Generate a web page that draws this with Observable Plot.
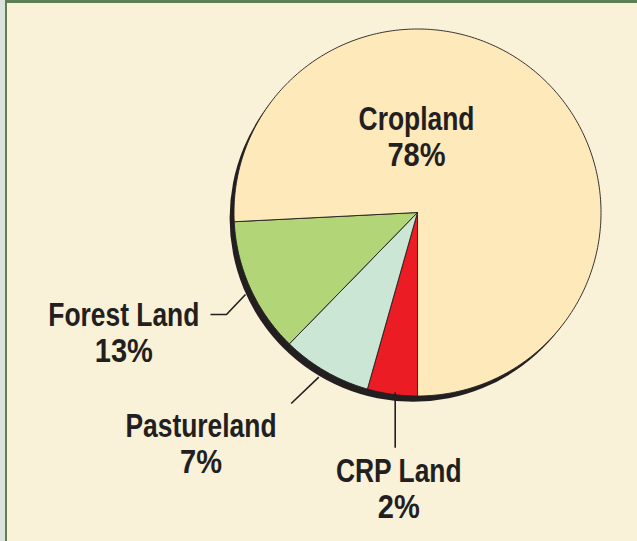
<!DOCTYPE html>
<html>
<head>
<meta charset="utf-8">
<script src="https://cdn.jsdelivr.net/npm/d3@7"></script>
<script src="https://cdn.jsdelivr.net/npm/@observablehq/plot@0.6"></script>
<style>
  html, body { margin: 0; padding: 0; background: #f9f1d8; }
  #frame { position: relative; width: 637px; height: 541px; background: #dbe2dc; overflow: hidden; }
  #panel { position: absolute; left: 5px; top: 0; right: 0; bottom: 0; border-left: 2.5px solid #5f7e53; border-top: 3px solid #5f7e53; background: #f9f1d8; }
  #chart { position: absolute; left: 0; top: 0; }
</style>
</head>
<body>
<div id="frame"><div id="panel"></div><div id="chart"></div></div>
<script>
// ---- data ----
const categories = ["CRP Land", "Pastureland", "Forest Land", "Cropland"];   // clockwise from 6 o'clock
const labelPercents = ["2%", "7%", "13%", "78%"];                            // printed values
const drawnShares = [4.4, 7.9, 11.9, 75.8];                                  // slice sizes as drawn (%)
const sliceColors = ["#ec1c24", "#cce6d5", "#b2d677", "#fee9bb"];

// ---- layout (pixels relative to pie centre, y up) ----
const layout = {
  radius: 183.5,
  startAngle: 180,          // degrees clockwise from 12 o'clock
  shadow: {dx: -4.4, dy: -5.8},
  labels: {
    "Cropland":    {x: -1,     y: 82.5,   leader: []},
    "Forest Land": {x: -293.7, y: -113,   leader: [[-172, -82], [-191, -102], [-207, -102]]},
    "Pastureland": {x: -216.5, y: -224.7, leader: [[-98.7, -164.7], [-126.3, -191]]},
    "CRP Land":    {x: -18.7,  y: -269.7, leader: [[-22.3, -179.7], [-22.3, -235.3]]}
  },
  lineGap: 36,
  fontSize: 33,
  nameSqueeze: 0.8,
  pctSqueeze: 0.88
};
const W = 637, H = 541, cx = 417, cy = 212;
const ink = "#231f20";

// ---- build slice polygons ----
const slicePoints = [];
let a0 = layout.startAngle;
categories.forEach((name, i) => {
  const span = drawnShares[i] / 100 * 360;
  const a1 = a0 + span;
  const pts = [{name, x: 0, y: 0}];
  const n = Math.max(2, Math.ceil(span));
  for (let k = 0; k <= n; k++) {
    const t = (a0 + (a1 - a0) * k / n) * Math.PI / 180;
    pts.push({name, x: layout.radius * Math.sin(t), y: layout.radius * Math.cos(t)});
  }
  pts.push({name, x: 0, y: 0});
  slicePoints.push(...pts);
  a0 = a1;
});

const leaderPoints = [];
const nameRows = [], pctRows = [];
categories.forEach((name, i) => {
  const L = layout.labels[name];
  L.leader.forEach(([x, y]) => leaderPoints.push({name, x, y}));
  nameRows.push({text: name, x: L.x, y: L.y});
  pctRows.push({text: labelPercents[i], x: L.x, y: L.y - layout.lineGap});
});

const font = "'Liberation Sans Narrow', 'Arial Narrow', 'Liberation Sans', Arial, sans-serif";

const chart = Plot.plot({
  width: W, height: H,
  margin: 0,
  style: {background: "transparent", overflow: "visible"},
  x: {domain: [-cx, W - cx], axis: null},
  y: {domain: [-(H - cy), cy], axis: null},
  color: {domain: categories, range: sliceColors},
  marks: [
    Plot.dot([layout.shadow], {x: "dx", y: "dy", r: layout.radius, fill: ink, stroke: "none"}),
    Plot.line(slicePoints, {x: "x", y: "y", z: "name", fill: "name", stroke: ink, strokeWidth: 0.9, strokeLinejoin: "miter"}),
    Plot.line(leaderPoints, {x: "x", y: "y", z: "name", stroke: ink, strokeWidth: 1.6, strokeLinecap: "butt", strokeLinejoin: "miter"}),
    Plot.text(nameRows, {x: "x", y: "y", text: "text", lineAnchor: "bottom", textAnchor: "middle", fontSize: layout.fontSize, fontWeight: "bold", fontFamily: font, fill: ink}),
    Plot.text(pctRows, {x: "x", y: "y", text: "text", lineAnchor: "bottom", textAnchor: "middle", fontSize: layout.fontSize, fontWeight: "bold", fontFamily: font, fill: ink})
  ]
});

// condense the labels horizontally (the original uses a condensed bold face)
const textGroups = chart.querySelectorAll('g[aria-label="text"]');
[layout.nameSqueeze, layout.pctSqueeze].forEach((s, gi) => {
  if (!textGroups[gi]) return;
  textGroups[gi].querySelectorAll("text").forEach(t => {
    const tr = t.getAttribute("transform") || "";
    t.setAttribute("transform", `${tr} scale(${s},1)`);
  });
});
document.getElementById("chart").appendChild(chart);
</script>
</body>
</html>
